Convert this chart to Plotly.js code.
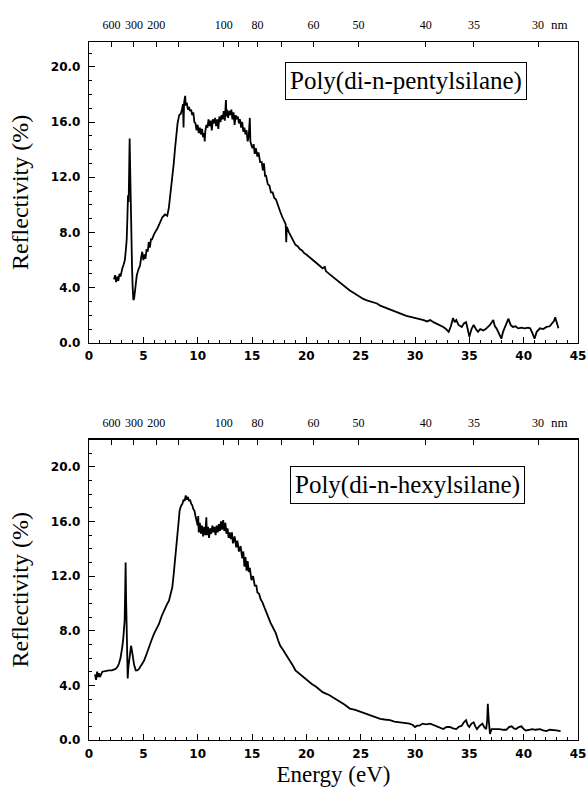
<!DOCTYPE html>
<html>
<head>
<meta charset="utf-8">
<script src="https://cdn.plot.ly/plotly-3.0.1.min.js"></script>
<style>html,body{margin:0;padding:0;background:#fff;}#chart{width:588px;height:795px;}</style>
</head>
<body>
<div id="chart"></div>
<script>
// ---- Data ----
const pentylEnergy = [2.30,2.40,2.50,2.60,2.70,2.80,2.90,3.00,3.07,3.20,3.30,3.40,3.47,3.53,3.59,3.65,3.70,3.74,3.78,3.82,3.87,3.92,3.96,4.02,4.08,4.15,4.22,4.30,4.40,4.54,4.70,4.80,4.90,5.00,5.10,5.20,5.30,5.40,5.50,5.60,5.70,5.80,6.00,6.30,6.50,6.75,7.00,7.20,7.35,7.50,7.65,7.80,7.92,8.04,8.15,8.30,8.45,8.55,8.65,8.70,8.75,8.85,8.90,9.00,9.10,9.20,9.30,9.40,9.50,9.60,9.70,9.80,9.90,10.00,10.10,10.20,10.30,10.40,10.50,10.60,10.65,10.70,10.80,10.90,11.00,11.10,11.20,11.30,11.40,11.50,11.60,11.70,11.80,11.90,12.00,12.10,12.20,12.30,12.40,12.50,12.60,12.65,12.70,12.80,12.90,13.00,13.10,13.20,13.30,13.40,13.50,13.60,13.70,13.80,13.90,14.00,14.10,14.20,14.30,14.40,14.50,14.60,14.70,14.80,14.85,14.95,15.05,15.15,15.25,15.35,15.50,15.60,15.75,15.90,16.00,16.10,16.20,16.30,16.45,16.60,16.75,16.90,17.05,17.20,17.40,17.60,17.80,18.00,18.10,18.15,18.20,18.40,18.60,18.80,19.00,19.20,19.40,19.60,19.80,20.00,20.20,20.40,20.60,20.90,21.20,21.50,21.70,21.80,22.10,22.40,22.80,23.10,23.40,23.70,24.00,24.30,24.60,24.90,25.20,25.50,25.85,26.20,26.50,26.80,27.10,27.40,27.70,28.00,28.30,28.60,28.90,29.20,29.50,29.80,30.10,30.40,30.80,31.10,31.40,31.70,32.00,32.30,32.60,32.85,33.10,33.30,33.50,33.65,33.80,34.00,34.30,34.50,34.70,34.85,35.00,35.20,35.40,35.60,35.80,36.00,36.30,36.50,36.70,36.90,37.20,37.35,37.50,37.70,37.95,38.10,38.30,38.45,38.60,38.80,39.00,39.25,39.50,39.80,40.10,40.40,40.60,40.80,41.00,41.20,41.50,41.80,42.10,42.40,42.60,42.80,42.90,43.05,43.20];
const pentylReflectivity = [4.6,4.9,4.4,4.8,4.5,5.0,4.8,5.2,5.4,5.7,6.0,6.8,7.5,9.0,10.7,10.2,12.5,14.8,13.0,10.8,9.0,7.0,5.5,4.0,3.1,3.2,3.7,4.2,4.9,5.3,5.6,6.2,6.6,6.0,6.4,6.1,6.8,6.6,7.3,6.9,7.5,7.5,7.9,8.3,8.7,9.1,9.3,9.2,9.8,10.8,11.9,13.0,14.1,15.0,15.9,16.5,16.6,16.9,17.3,15.6,17.4,17.9,17.2,17.4,16.9,17.1,16.8,16.9,16.5,16.7,16.0,15.9,15.4,15.8,15.2,15.6,15.1,15.5,14.9,15.2,14.6,15.3,15.8,15.6,16.2,15.7,16.1,15.4,16.2,15.9,16.3,15.7,16.2,15.5,16.4,16.0,16.5,16.2,16.8,16.1,17.6,16.4,16.9,16.3,16.8,16.5,16.9,16.2,16.7,15.8,16.5,16.2,16.4,15.9,16.2,15.6,16.0,15.3,15.6,15.1,15.4,14.6,15.0,16.3,14.6,14.3,14.1,14.4,13.7,14.1,13.5,13.8,13.1,13.1,12.5,13.0,12.1,12.1,11.5,11.4,10.9,10.9,10.5,10.4,9.9,9.5,9.1,8.8,8.6,7.3,8.4,8.0,7.7,7.4,7.1,7.0,6.8,6.7,6.5,6.4,6.25,6.1,6.0,5.8,5.6,5.4,5.5,5.2,5.0,4.8,4.55,4.4,4.2,4.0,3.8,3.65,3.5,3.3,3.2,3.1,3.0,2.9,2.85,2.7,2.6,2.5,2.4,2.35,2.25,2.1,2.0,1.95,1.9,1.85,1.8,1.7,1.65,1.55,1.65,1.5,1.4,1.3,1.15,1.0,0.8,1.2,1.8,1.5,1.65,1.3,1.15,1.4,1.5,1.0,0.45,1.0,1.3,1.0,0.8,1.0,0.9,1.0,1.15,1.3,1.65,1.2,1.05,0.7,0.3,0.8,1.15,1.4,1.75,1.3,1.15,1.2,1.05,1.1,1.05,1.1,1.05,0.7,0.3,0.8,1.05,1.0,1.15,1.2,1.4,1.6,1.85,1.4,1.05];

const hexylEnergy = [0.55,0.65,0.75,0.85,0.92,1.00,1.23,1.50,1.84,2.10,2.45,2.65,2.76,2.90,2.98,3.08,3.16,3.24,3.28,3.32,3.37,3.41,3.45,3.50,3.56,3.62,3.68,3.78,3.87,3.96,4.05,4.15,4.30,4.45,4.60,4.80,5.06,5.30,5.50,5.75,6.00,6.20,6.44,6.70,6.90,7.15,7.36,7.50,7.67,7.80,7.90,8.00,8.13,8.25,8.34,8.45,8.60,8.70,8.80,8.90,9.00,9.10,9.20,9.30,9.40,9.50,9.60,9.70,9.80,9.90,10.00,10.05,10.10,10.20,10.30,10.40,10.50,10.60,10.70,10.80,10.85,10.95,11.05,11.15,11.25,11.35,11.45,11.55,11.65,11.75,11.85,11.95,12.05,12.15,12.25,12.35,12.45,12.55,12.65,12.75,12.85,12.95,13.05,13.15,13.25,13.40,13.55,13.65,13.80,13.95,14.10,14.20,14.30,14.40,14.50,14.60,14.70,14.80,14.95,15.10,15.25,15.40,15.50,15.65,15.80,15.95,16.10,16.26,16.45,16.70,16.95,17.20,17.40,17.60,17.85,18.10,18.35,18.60,18.80,19.00,19.30,19.60,19.90,20.20,20.50,20.90,21.20,21.50,21.80,22.10,22.50,22.85,23.10,23.50,24.00,24.50,25.00,25.40,25.85,26.30,26.80,27.20,27.70,28.10,28.60,29.00,29.50,29.80,30.00,30.20,30.40,30.70,31.00,31.40,31.70,32.00,32.30,32.60,32.90,33.20,33.50,33.80,34.00,34.30,34.50,34.70,34.85,35.00,35.20,35.40,35.55,35.70,35.90,36.20,36.40,36.55,36.65,36.70,36.78,36.90,37.05,37.20,37.50,37.80,38.10,38.40,38.65,38.90,39.10,39.30,39.55,39.80,40.00,40.20,40.50,40.80,41.10,41.50,41.80,42.10,42.40,42.70,43.00,43.40];
const hexylReflectivity = [4.8,4.4,5.0,4.6,4.9,4.6,5.0,5.05,5.1,5.1,5.2,5.4,5.6,6.0,6.3,6.9,7.5,8.3,8.75,10.5,13.0,10.5,8.7,6.5,4.5,5.3,5.8,6.5,6.9,6.5,6.0,5.5,5.1,5.1,5.2,5.5,5.8,6.3,6.8,7.3,7.8,8.1,8.5,9.1,9.5,9.9,10.2,10.6,11.2,12.2,13.2,14.1,15.1,16.0,16.8,17.1,17.3,17.6,17.5,17.9,17.6,17.8,17.5,17.6,17.3,17.2,16.9,16.8,16.4,16.1,15.7,16.4,15.2,15.9,15.1,15.7,14.9,15.6,15.0,16.3,15.0,15.6,14.8,15.5,15.1,15.7,15.2,15.6,15.0,15.7,15.2,15.8,15.3,16.0,15.4,16.1,15.3,15.9,15.1,15.5,14.8,15.2,14.7,15.2,14.4,14.9,14.1,14.6,13.8,14.2,13.3,13.8,12.7,13.4,12.4,13.1,12.3,12.6,11.7,12.0,11.3,11.3,10.8,10.7,10.3,10.1,9.8,9.4,9.0,8.6,8.2,7.8,7.3,6.9,6.6,6.3,6.0,5.7,5.4,5.1,4.9,4.7,4.45,4.25,4.1,3.9,3.7,3.5,3.4,3.3,3.1,2.9,2.8,2.6,2.3,2.2,2.05,1.95,1.8,1.65,1.55,1.5,1.45,1.35,1.3,1.25,1.2,1.1,0.95,1.05,1.05,1.2,1.15,1.2,1.1,1.05,0.95,0.8,0.95,0.95,0.85,0.8,0.95,1.05,1.3,1.45,1.1,0.95,1.2,1.3,1.0,0.8,1.0,1.2,0.9,0.8,1.5,2.65,1.5,0.45,0.8,0.8,0.85,0.8,0.75,0.75,0.95,1.0,0.85,0.8,0.95,1.0,0.8,0.7,0.75,0.8,0.75,0.8,0.7,0.65,0.75,0.75,0.7,0.65];

// Top (wavelength) scale: tick wavelengths in nm and their labels
const wavelengthTicks = [600, 300, 200, 150, 100, 90, 80, 70, 60, 50, 40, 35, 30];
const wavelengthLabels = ["600", "300", "200", "", "100", "", "80", "", "60", "50", "40", "35", "30"];
const sampleNames = ["Poly(di-n-pentylsilane)", "Poly(di-n-hexylsilane)"];
const xTitle = "Energy (eV)";
const yTitle = "Reflectivity (%)";

// ---- Build figure ----
const HC = 1239.84; // eV*nm, converts wavelength tick labels to energy positions
const nmPositions = wavelengthTicks.map(l => HC / l);

const tickFont = {family: "DejaVu Sans", size: 12, color: "#000", weight: "bold"};
const nmFont = {family: "Liberation Serif", size: 12, color: "#000"};
const serif = "Liberation Serif";

function bottomAxis(anchor, withTitle) {
  const ax = {
    anchor: anchor, range: [0, 45], tickvals: [0,5,10,15,20,25,30,35,40,45],
    ticks: "inside", ticklen: 6, tickwidth: 1, tickcolor: "#000",
    minor: {dtick: 1, ticks: "inside", ticklen: 3, tickcolor: "#000", tickwidth: 1},
    showline: true, linecolor: "#000", linewidth: 1.2, mirror: false,
    showgrid: false, zeroline: false, tickfont: tickFont, automargin: false,
    ticklabelstandoff: 2, tickangle: 0
  };
  if (withTitle) ax.title = {text: xTitle, font: {family: serif, size: 23, color: "#000"}, standoff: 6};
  return ax;
}
function topAxis(overlay, anchor) {
  return {
    overlaying: overlay, anchor: anchor, side: "top", range: [0, 45],
    tickmode: "array", tickvals: nmPositions, ticktext: wavelengthLabels,
    ticks: "inside", ticklen: 5, tickwidth: 1, tickcolor: "#000",
    showline: true, linecolor: "#000", linewidth: 1.2,
    showgrid: false, zeroline: false, tickfont: nmFont, automargin: false,
    ticklabelstandoff: 7, tickangle: 0
  };
}
function leftAxis(domain, range) {
  return {
    domain: domain, range: range, tick0: 0, dtick: 4, tickformat: ".1f",
    ticks: "inside", ticklen: 6, tickwidth: 1, tickcolor: "#000",
    minor: {dtick: 1, ticks: "inside", ticklen: 3, tickcolor: "#000", tickwidth: 1},
    showline: true, linecolor: "#000", linewidth: 1.2, mirror: true,
    showgrid: false, zeroline: false, tickfont: tickFont, automargin: false,
    ticklabelstandoff: 5,
    title: {text: yTitle, font: {family: serif, size: 24, color: "#000"}, standoff: 15}
  };
}

const lineStyle = {color: "#000", width: 1.8};
const traces = [
  {x: pentylEnergy, y: pentylReflectivity, xaxis: "x", yaxis: "y", mode: "lines", line: lineStyle, hoverinfo: "skip"},
  {x: hexylEnergy, y: hexylReflectivity, xaxis: "x3", yaxis: "y2", mode: "lines", line: lineStyle, hoverinfo: "skip"},
  {x: pentylEnergy, y: pentylReflectivity, xaxis: "x2", yaxis: "y", mode: "lines", line: {color: "rgba(0,0,0,0)", width: 0}, hoverinfo: "skip"},
  {x: hexylEnergy, y: hexylReflectivity, xaxis: "x4", yaxis: "y2", mode: "lines", line: {color: "rgba(0,0,0,0)", width: 0}, hoverinfo: "skip"}
];

const boxFont = {family: serif, size: 25, color: "#000"};
const layout = {
  width: 588, height: 795,
  margin: {l: 89, r: 10, t: 42, b: 55.4, pad: 0},
  paper_bgcolor: "#fff", plot_bgcolor: "#fff",
  showlegend: false,
  xaxis: bottomAxis("y", false),
  xaxis2: topAxis("x", "y"),
  xaxis3: bottomAxis("y2", true),
  xaxis4: topAxis("x3", "y2"),
  yaxis: leftAxis([0.569, 1], [0, 21.8]),
  yaxis2: leftAxis([0, 0.4305], [0, 22]),
  annotations: [
    {text: sampleNames[0], xref: "x", yref: "y", x: 29.2, y: 18.95, xanchor: "center", yanchor: "middle",
     showarrow: false, font: boxFont, bordercolor: "#000", borderwidth: 1, borderpad: 4, bgcolor: "#fff"},
    {text: sampleNames[1], xref: "x3", yref: "y2", x: 29.35, y: 18.7, xanchor: "center", yanchor: "middle",
     showarrow: false, font: boxFont, bordercolor: "#000", borderwidth: 1, borderpad: 4, bgcolor: "#fff"},
    {text: "nm", xref: "x domain", yref: "y domain", x: 0.963, y: 1.057, xanchor: "center", yanchor: "middle",
     showarrow: false, font: {family: serif, size: 13, color: "#000"}},
    {text: "nm", xref: "x3 domain", yref: "y2 domain", x: 0.963, y: 1.057, xanchor: "center", yanchor: "middle",
     showarrow: false, font: {family: serif, size: 13, color: "#000"}}
  ]
};

Plotly.newPlot("chart", traces, layout, {displayModeBar: false, staticPlot: true});
</script>
</body>
</html>
